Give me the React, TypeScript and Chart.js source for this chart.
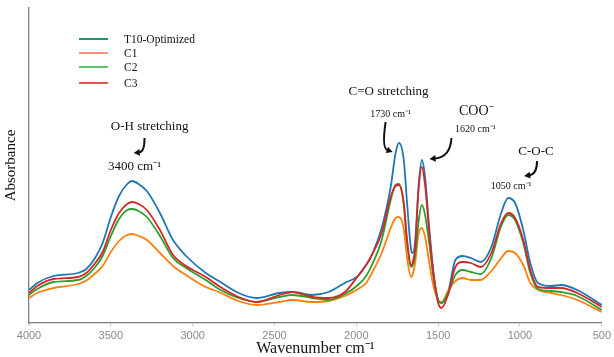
import React, { useEffect, useRef } from "react";
import { Chart, registerables } from "chart.js";

Chart.register(...registerables);

// Wavenumber grid (cm^-1)
const wavenumbers = [
  4000, 3950, 3850, 3700, 3650, 3600, 3550, 3500, 3450, 3400,
  3370, 3330, 3280, 3200, 3120, 3040, 2920, 2840, 2720, 2610,
  2470, 2390, 2270, 2170, 2070, 1990, 1940, 1905, 1845, 1790,
  1760, 1740, 1710, 1690, 1665, 1655, 1640, 1620, 1600, 1580,
  1555, 1530, 1500, 1480, 1440, 1395, 1350, 1300, 1240, 1175,
  1115, 1072, 1030, 980, 937, 890, 810, 750, 650, 500,
];

// Absorbance (a.u.)
const t10Optimized = [
  0.066, 0.080, 0.094, 0.100, 0.108, 0.128, 0.160, 0.212, 0.254, 0.278,
  0.284, 0.278, 0.264, 0.220, 0.166, 0.134, 0.100, 0.084, 0.060, 0.050,
  0.060, 0.062, 0.056, 0.062, 0.080, 0.094, 0.116, 0.136, 0.190, 0.272,
  0.340, 0.360, 0.326, 0.240, 0.146, 0.140, 0.166, 0.272, 0.326, 0.292,
  0.192, 0.106, 0.046, 0.040, 0.060, 0.126, 0.134, 0.130, 0.122, 0.152,
  0.220, 0.250, 0.240, 0.186, 0.120, 0.080, 0.074, 0.076, 0.066, 0.036,
];
const c1 = [
  0.050, 0.060, 0.070, 0.078, 0.085, 0.098, 0.114, 0.142, 0.164, 0.176,
  0.178, 0.174, 0.166, 0.140, 0.114, 0.096, 0.072, 0.062, 0.044, 0.036,
  0.042, 0.046, 0.042, 0.044, 0.054, 0.068, 0.080, 0.100, 0.140, 0.190,
  0.210, 0.212, 0.188, 0.130, 0.092, 0.098, 0.122, 0.178, 0.190, 0.172,
  0.122, 0.076, 0.046, 0.042, 0.064, 0.084, 0.090, 0.086, 0.086, 0.104,
  0.130, 0.144, 0.140, 0.116, 0.080, 0.066, 0.060, 0.056, 0.046, 0.022,
];
const c2 = [
  0.056, 0.068, 0.082, 0.086, 0.094, 0.110, 0.134, 0.174, 0.208, 0.226,
  0.228, 0.224, 0.212, 0.174, 0.130, 0.110, 0.086, 0.068, 0.050, 0.042,
  0.052, 0.056, 0.050, 0.046, 0.058, 0.076, 0.094, 0.116, 0.166, 0.246,
  0.276, 0.278, 0.236, 0.160, 0.112, 0.116, 0.136, 0.202, 0.236, 0.216,
  0.160, 0.096, 0.046, 0.040, 0.060, 0.096, 0.106, 0.102, 0.098, 0.130,
  0.194, 0.216, 0.206, 0.160, 0.100, 0.068, 0.064, 0.062, 0.054, 0.026,
];
const c3 = [
  0.060, 0.074, 0.088, 0.092, 0.100, 0.118, 0.142, 0.186, 0.220, 0.238,
  0.242, 0.238, 0.226, 0.186, 0.136, 0.114, 0.092, 0.074, 0.052, 0.042,
  0.056, 0.062, 0.052, 0.050, 0.062, 0.094, 0.116, 0.136, 0.180, 0.252,
  0.274, 0.276, 0.240, 0.166, 0.116, 0.122, 0.152, 0.266, 0.312, 0.276,
  0.182, 0.100, 0.040, 0.030, 0.056, 0.112, 0.122, 0.120, 0.112, 0.140,
  0.200, 0.220, 0.210, 0.166, 0.106, 0.072, 0.070, 0.070, 0.060, 0.032,
];

const seriesNames = ["T10-Optimized", "C1", "C2", "C3"];
const seriesValues = [t10Optimized, c1, c2, c3];
const lineColors = ["#1f77b4", "#ff7f0e", "#2ca02c", "#d62728"];
const legendColors = ["#1a9a6e", "#f26b4f", "#5cc46a", "#e0584b"];
const drawOrder = [4, 3, 2, 1];

const xTickValues = [4000, 3500, 3000, 2500, 2000, 1500, 1000, 500];
const xTitle = "Wavenumber cm⁻¹";
const yTitle = "Absorbance";

// Annotation labels anchored in data coordinates (wavenumber, absorbance)
const annotationTexts = [
  { text: "O-H stretching", w: 3263, a: 0.392, size: 13 },
  { text: "3400 cm⁻¹", w: 3355, a: 0.312, size: 13 },
  { text: "C=O stretching", w: 1803, a: 0.462, size: 13 },
  { text: "1730 cm⁻¹", w: 1790, a: 0.418, size: 10 },
  { text: "COO⁻", w: 1267, a: 0.424, size: 14 },
  { text: "1620 cm⁻¹", w: 1273, a: 0.388, size: 10 },
  { text: "C-O-C", w: 902, a: 0.342, size: 13 },
  { text: "1050 cm⁻¹", w: 1054, a: 0.274, size: 10 },
];

// Curved arrows: start, control, end (wavenumber, absorbance)
const annotationArrows = [
  { s: [3294, 0.37], c: [3294, 0.342], e: [3361, 0.34] },
  { s: [1821, 0.402], c: [1845, 0.35], e: [1778, 0.342] },
  { s: [1419, 0.37], c: [1425, 0.332], e: [1553, 0.328] },
  { s: [896, 0.324], c: [896, 0.298], e: [975, 0.294] },
];

const SERIF = "'Liberation Serif', 'Times New Roman', serif";
const SANS = "'Liberation Sans', Arial, sans-serif";

const overlayPlugin = {
  id: "overlay",
  afterDatasetsDraw(chart: any) {
    const { ctx, chartArea, scales } = chart;
    const xs = scales.x;
    const ys = scales.y;
    ctx.save();

    // legend
    const lx0 = chartArea.left + 50;
    const lx1 = chartArea.left + 79;
    const tx = chartArea.left + 95;
    const rowY = [31, 45, 59, 75];
    ctx.font = `11.5px ${SERIF}`;
    ctx.textBaseline = "middle";
    ctx.textAlign = "left";
    seriesNames.forEach((name, i) => {
      const y = chartArea.top + rowY[i];
      ctx.strokeStyle = legendColors[i];
      ctx.lineWidth = i === 1 ? 1.5 : 2;
      ctx.beginPath();
      ctx.moveTo(lx0, y);
      ctx.lineTo(lx1, y);
      ctx.stroke();
      ctx.fillStyle = "#111";
      ctx.fillText(name, tx, y + 0.5);
    });

    // annotation text
    ctx.textAlign = "center";
    annotationTexts.forEach((t) => {
      ctx.font = `${t.size}px ${SERIF}`;
      ctx.fillStyle = "#111";
      ctx.fillText(t.text, xs.getPixelForValue(t.w), ys.getPixelForValue(t.a));
    });

    // arrows
    ctx.strokeStyle = "#111";
    ctx.fillStyle = "#111";
    annotationArrows.forEach((ar) => {
      const sx = xs.getPixelForValue(ar.s[0]);
      const sy = ys.getPixelForValue(ar.s[1]);
      const cx = xs.getPixelForValue(ar.c[0]);
      const cy = ys.getPixelForValue(ar.c[1]);
      const ex = xs.getPixelForValue(ar.e[0]);
      const ey = ys.getPixelForValue(ar.e[1]);
      const ang = Math.atan2(ey - cy, ex - cx);
      const head = 7;
      const bx = ex - Math.cos(ang) * head * 0.8;
      const by = ey - Math.sin(ang) * head * 0.8;
      ctx.lineWidth = 2;
      ctx.beginPath();
      ctx.moveTo(sx, sy);
      ctx.quadraticCurveTo(cx, cy, bx, by);
      ctx.stroke();
      ctx.beginPath();
      ctx.moveTo(ex, ey);
      ctx.lineTo(
        ex - Math.cos(ang - 0.5) * head,
        ey - Math.sin(ang - 0.5) * head
      );
      ctx.lineTo(
        ex - Math.cos(ang + 0.5) * head,
        ey - Math.sin(ang + 0.5) * head
      );
      ctx.closePath();
      ctx.fill();
    });

    ctx.restore();
  },
};

export default function App() {
  const canvasRef = useRef<HTMLCanvasElement | null>(null);

  useEffect(() => {
    const canvas = canvasRef.current;
    if (!canvas) return;
    const chart = new Chart(canvas, {
      type: "line",
      data: {
        datasets: seriesNames.map((name, i) => ({
          label: name,
          data: wavenumbers.map((w, j) => ({ x: w, y: seriesValues[i][j] })),
          borderColor: lineColors[i],
          backgroundColor: lineColors[i],
          borderWidth: 1.8,
          pointRadius: 0,
          cubicInterpolationMode: "monotone" as const,
          fill: false,
          order: drawOrder[i],
        })),
      },
      options: {
        animation: false,
        responsive: false,
        devicePixelRatio: 1,
        layout: { padding: { top: 8, right: 10, left: 0, bottom: 0 } },
        plugins: {
          legend: { display: false },
          tooltip: { enabled: false },
        },
        scales: {
          x: {
            type: "linear",
            min: 500,
            max: 4000,
            reverse: true,
            afterBuildTicks: (scale: any) => {
              scale.ticks = xTickValues.map((v) => ({ value: v }));
            },
            afterFit: (scale: any) => {
              scale.height = 34;
            },
            ticks: {
              color: "#8a8a8a",
              font: { family: SANS, size: 11 },
              padding: 3,
              maxRotation: 0,
              callback: (v: any) => String(v),
            },
            grid: {
              display: true,
              drawOnChartArea: false,
              drawTicks: true,
              tickLength: 3,
              color: "#cfcfcf",
            },
            border: { display: true, color: "#7f7f7f", width: 1.3 },
            title: {
              display: true,
              text: xTitle,
              color: "#111",
              font: { family: SERIF, size: 16, lineHeight: 1 },
              padding: 0,
            },
          },
          y: {
            type: "linear",
            min: 0,
            max: 0.63,
            afterFit: (scale: any) => {
              scale.width = 29;
            },
            ticks: { display: false },
            grid: { display: false },
            border: { display: true, color: "#7f7f7f", width: 1.3 },
            title: {
              display: true,
              text: yTitle,
              color: "#111",
              font: { family: SERIF, size: 15, lineHeight: 1.2 },
              padding: { top: 2, bottom: 0 },
            },
          },
        },
      },
      plugins: [overlayPlugin],
    });
    return () => chart.destroy();
  }, []);

  return (
    <div
      style={{
        position: "absolute",
        left: 0,
        top: 0,
        width: 614,
        height: 357,
        background: "#fff",
      }}
    >
      <canvas ref={canvasRef} width={614} height={357} />
    </div>
  );
}
